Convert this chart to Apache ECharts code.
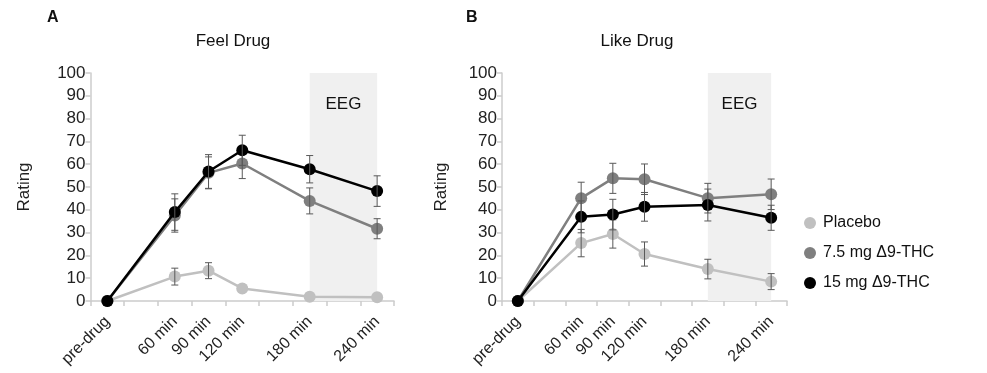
<!DOCTYPE html>
<html>
<head>
<meta charset="utf-8">
<script src="https://cdn.jsdelivr.net/npm/echarts@6/dist/echarts.min.js"></script>
<style>
  html, body { margin: 0; padding: 0; background: #fff; }
  #chart { width: 987px; height: 373px; }
</style>
</head>
<body>
<div id="chart"></div>
<script>
// time slots every 30 min, only some are measured
const slotMinutes = [0, 30, 60, 90, 120, 150, 180, 210, 240]
const timeLabels = ['pre-drug', '', '60 min', '90 min', '120 min', '', '180 min', '', '240 min']
const measuredMinutes = [0, 60, 90, 120, 180, 240]

const groups = ['Placebo', '7.5 mg Δ9-THC', '15 mg Δ9-THC']
const groupColors = ['#c0c0c0', '#7f7f7f', '#000000']

// Feel Drug (panel A)
const feelPlacebo = [0, 10.7, 13.3, 5.5, 1.9, 1.6]
const feelPlaceboErr = [0, 3.7, 3.5, 0, 0, 0]
const feelLow = [0, 37.5, 56.2, 60.3, 43.9, 31.7]
const feelLowErr = [0, 7.3, 7, 6.6, 5.7, 4.4]
const feelHigh = [0, 39, 56.8, 66.1, 57.8, 48.2]
const feelHighErr = [0, 8, 7.4, 6.6, 6, 6.7]

// Like Drug (panel B)
const likePlacebo = [0, 25.4, 29.4, 20.6, 14, 8.5]
const likePlaceboErr = [0, 6, 6.2, 5.3, 4.3, 3.5]
const likeLow = [0, 45.1, 53.8, 53.4, 45.1, 46.8]
const likeLowErr = [0, 7, 6.6, 6.7, 6.5, 6.7]
const likeHigh = [0, 36.9, 37.9, 41.3, 42.1, 36.5]
const likeHighErr = [0, 7, 6.7, 6.3, 7, 5.5]

const eegRange = ['180 min', '240 min']

const chart = echarts.init(document.getElementById('chart'))

const toPoints = (vals) => vals.map((v, i) => [slotMinutes.indexOf(measuredMinutes[i]), v])
const toBars = (vals, errs) => vals.map((v, i) => [slotMinutes.indexOf(measuredMinutes[i]), v - errs[i], v + errs[i]])

const errorBarSeries = (idx, vals, errs, z) => ({
  type: 'custom',
  xAxisIndex: idx,
  yAxisIndex: idx,
  z: z,
  silent: true,
  data: toBars(vals, errs).filter(d => d[2] - d[1] > 0),
  renderItem: (params, api) => {
    const lo = api.coord([api.value(0), api.value(1)])
    const hi = api.coord([api.value(0), api.value(2)])
    const w = 3.5
    const style = { stroke: '#595959', lineWidth: 1 }
    return {
      type: 'group',
      children: [
        { type: 'line', shape: { x1: lo[0], y1: lo[1], x2: hi[0], y2: hi[1] }, style },
        { type: 'line', shape: { x1: lo[0] - w, y1: lo[1], x2: lo[0] + w, y2: lo[1] }, style },
        { type: 'line', shape: { x1: hi[0] - w, y1: hi[1], x2: hi[0] + w, y2: hi[1] }, style }
      ]
    }
  }
})

const lineSeries = (idx, name, vals, color, z, withEeg) => {
  const s = {
    name: name,
    type: 'line',
    xAxisIndex: idx,
    yAxisIndex: idx,
    z: z,
    data: toPoints(vals),
    connectNulls: true,
    symbol: 'circle',
    symbolSize: 12,
    lineStyle: { color: color, width: 2.5 },
    itemStyle: { color: color },
    emphasis: { disabled: true }
  }
  if (withEeg) {
    s.markArea = {
      silent: true,
      itemStyle: { color: '#f0f0f0' },
      label: {
        show: true, position: 'insideTop', distance: 23,
        fontSize: 17, color: '#111', fontFamily: 'Liberation Sans'
      },
      data: [[{ name: 'EEG', xAxis: eegRange[0], yAxis: 0 }, { xAxis: eegRange[1], yAxis: 100 }]]
    }
  }
  return s
}

const xAxisCfg = (idx) => ({
  type: 'category',
  gridIndex: idx,
  data: timeLabels,
  boundaryGap: true,
  axisLine: { lineStyle: { color: '#cccccc', width: 1.5 } },
  axisTick: { show: true, interval: 0, alignWithLabel: false, length: 5, lineStyle: { color: '#cccccc', width: 1.5 } },
  axisLabel: {
    interval: 0, rotate: 45, margin: 18,
    fontSize: 16, color: '#222', fontFamily: 'Liberation Sans'
  },
  splitLine: { show: false }
})

const yAxisCfg = (idx, gap) => ({
  type: 'value',
  gridIndex: idx,
  min: 0, max: 100, interval: 10,
  name: 'Rating',
  nameLocation: 'middle',
  nameGap: gap,
  nameTextStyle: { fontSize: 17, color: '#222', fontFamily: 'Liberation Sans' },
  axisLine: { show: true, lineStyle: { color: '#cccccc', width: 1.5 } },
  axisTick: { show: true, length: 5, lineStyle: { color: '#cccccc', width: 1.5 } },
  axisLabel: { margin: 5, fontSize: 17, color: '#222', fontFamily: 'Liberation Sans' },
  splitLine: { show: false }
})

const txt = (x, y, text, bold) => ({
  type: 'text', x: x, y: y,
  style: {
    text: text, fill: '#111', fontSize: bold ? 16 : 17, fontWeight: bold ? 'bold' : 'normal',
    fontFamily: 'Liberation Sans', textAlign: bold ? 'left' : 'center', textVerticalAlign: 'middle'
  }
})

const option = {
  animation: false,
  backgroundColor: '#fff',
  graphic: [
    txt(47, 18, 'A', true),
    txt(233, 41, 'Feel Drug', false),
    txt(466, 18, 'B', true),
    txt(637, 41, 'Like Drug', false)
  ],
  legend: {
    data: groups,
    orient: 'vertical',
    left: 799,
    top: 210,
    icon: 'circle',
    itemWidth: 16,
    itemHeight: 12,
    itemGap: 14,
    textStyle: { fontSize: 16, color: '#111', fontFamily: 'Liberation Sans' },
    selectedMode: false
  },
  grid: [
    { left: 90.5, top: 73, width: 303.5, height: 228 },
    { left: 502, top: 73, width: 285, height: 228 }
  ],
  xAxis: [xAxisCfg(0), xAxisCfg(1)],
  yAxis: [yAxisCfg(0, 58), yAxisCfg(1, 52)],
  series: [
    lineSeries(0, groups[0], feelPlacebo, groupColors[0], 2, true),
    errorBarSeries(0, feelPlacebo, feelPlaceboErr, 3),
    lineSeries(0, groups[1], feelLow, groupColors[1], 4, false),
    errorBarSeries(0, feelLow, feelLowErr, 5),
    lineSeries(0, groups[2], feelHigh, groupColors[2], 6, false),
    errorBarSeries(0, feelHigh, feelHighErr, 7),

    lineSeries(1, groups[0], likePlacebo, groupColors[0], 2, true),
    errorBarSeries(1, likePlacebo, likePlaceboErr, 3),
    lineSeries(1, groups[1], likeLow, groupColors[1], 4, false),
    errorBarSeries(1, likeLow, likeLowErr, 5),
    lineSeries(1, groups[2], likeHigh, groupColors[2], 6, false),
    errorBarSeries(1, likeHigh, likeHighErr, 7)
  ]
}

chart.setOption(option)
</script>
</body>
</html>
